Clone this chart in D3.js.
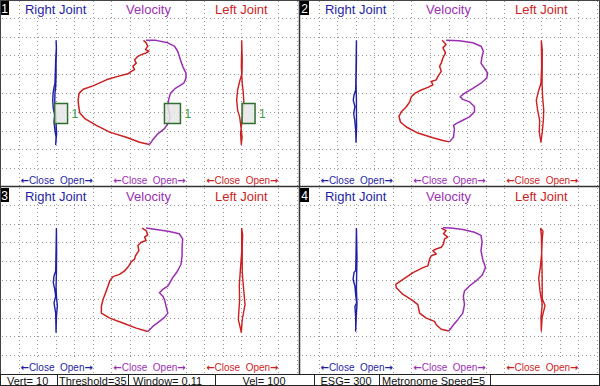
<!doctype html>
<html>
<head>
<meta charset="UTF-8">
<title>Jaw Tracking</title>
<script src="https://d3js.org/d3.v7.min.js"></script>
<style>
  body { margin: 0; background: #fff; }
  svg { display: block; font-family: Arial, "Liberation Sans", sans-serif; }
</style>
</head>
<body>
<script>
// column titles, panel numbers, status bar texts
var titles = ["Right Joint", "Velocity", "Left Joint"];
var dirLabel = ["\u2190", "Close  Open", "\u2192"];
var panelNames = ["1", "2", "3", "4"];
var statusLabels = ["Vert= 10", "Threshold=35", "Window= 0.11", "Vel= 100", "ESG= 300", "Metronome Speed=5", ""];

// traces: [sideways, vertical] in grid divisions
var p1Right = [[0.02,2.20],[0.04,2.51],[0,3.23],[-0.02,3.94],[-0.04,4.48],[-0.09,4.70],[-0.14,5.02],[-0.16,5.38],[-0.13,5.82],[-0.05,6.18],[-0.09,6.54],[-0.04,6.99],[0.02,7.35],[0,7.74],
  [0.05,7.17],[0.02,6.63],[0,6.09],[-0.04,5.73],[-0.05,5.38],[-0.04,5.02],[0,4.66],[0.02,4.12],[0.02,3.41],[0.04,2.69],[0.02,2.20]];
var p1VelClose = [[-0.27,2.20],[-0.13,2.33],[-0.04,2.51],[-0.16,2.69],[0.02,2.78],[-0.13,2.87],[-0.39,2.96],[-0.57,3.05],[-0.75,3.23],[-0.66,3.41],[-0.84,3.58],[-0.75,3.76],[-0.93,3.85],[-1.11,3.98],[-1.56,4.09],[-2.27,4.30],[-2.99,4.62],[-3.52,4.80],[-3.74,5.02],[-3.79,5.38],[-3.76,5.73],[-3.70,6.06],[-3.43,6.36],[-2.81,6.72],[-2.09,7.08],[-1.20,7.35],[-0.48,7.62],[0.05,7.74]];
var p1VelOpen = [[0.05,7.74],[0.23,7.49],[0.50,7.17],[0.86,6.90],[1.04,6.63],[1.16,6.36],[1.13,6.09],[1.04,5.73],[1.08,5.38],[1.18,5.02],[1.45,4.75],[1.9,4.48],[2.02,4.21],[2.02,3.94],[1.84,3.58],[1.75,3.32],[1.66,3.05],[1.57,2.78],[1.40,2.51],[1.04,2.33],[0.41,2.20],[-0.13,2.19]];
var p1Left = [[0.02,2.20],[0.05,3.23],[0.04,3.94],[-0.09,4.39],[-0.20,4.84],[-0.25,5.38],[-0.20,5.91],[-0.09,6.27],[-0.02,6.81],[0.04,7.35],[0,7.74],
  [-0.04,7.17],[0.02,6.63],[0.09,6.09],[0.14,5.56],[0.11,5.02],[0.05,4.48],[0,3.58],[0.02,2.69],[0.02,2.20]];

var p2Right = [[0.04,2.20],[0.02,3.58],[0,4.84],[-0.09,5.11],[-0.13,5.38],[-0.04,5.73],[-0.11,6.09],[-0.05,6.45],[0,6.99],[0.02,7.62],
  [0.05,6.81],[0.04,6.09],[0.04,5.38],[0.02,4.48],[0.04,3.23],[0.04,2.20]];
var p2VelClose = [[-0.34,2.20],[-0.13,2.42],[-0.30,2.60],[-0.16,2.87],[-0.30,3.14],[-0.39,3.41],[-0.48,3.58],[-0.39,3.85],[-0.57,4.12],[-0.66,4.30],[-0.93,4.39],[-0.84,4.57],[-1.11,4.70],[-1.47,4.84],[-1.82,5.02],[-2.00,5.20],[-2.09,5.47],[-2.27,5.73],[-2.54,6.00],[-2.67,6.24],[-2.59,6.54],[-2.27,6.81],[-1.65,7.13],[-0.84,7.38],[-0.30,7.53],[0.05,7.60]];
var p2VelOpen = [[0.05,7.60],[0.27,7.35],[0.32,6.90],[0.27,6.72],[0.41,6.63],[0.77,6.45],[1.13,6.27],[1.40,6.00],[1.40,5.73],[1.13,5.47],[0.77,5.34],[0.63,5.20],[0.86,5.02],[1.31,4.75],[1.75,4.48],[2.06,4.21],[2.11,3.94],[1.93,3.67],[1.75,3.41],[1.81,3.05],[1.88,2.78],[1.75,2.51],[1.31,2.33],[0.59,2.22],[-0.13,2.19]];
var p2Left = [[0,2.20],[0.02,3.58],[-0.02,4.48],[-0.16,4.93],[-0.27,5.38],[-0.20,5.91],[-0.09,6.45],[-0.11,7.08],[-0.02,7.62],
  [0.05,7.08],[0.11,6.45],[0.13,5.91],[0.07,5.20],[0.04,4.48],[0.05,3.58],[0.05,2.69],[0,2.20]];

var p3Right = [[0.04,2.24],[0.02,3.44],[0,4.52],[-0.09,4.79],[-0.13,5.14],[-0.05,5.50],[0,5.86],[-0.09,6.22],[0,6.76],[0.02,7.78],
  [0.04,7.0],[0.09,6.36],[0.05,6.0],[0.02,5.40],[0.04,4.60],[0.05,3.5],[0.04,2.24]];
var p3VelClose = [[-0.34,2.24],[-0.13,2.37],[-0.04,2.60],[-0.21,2.72],[-0.13,2.90],[-0.39,2.99],[-0.57,3.17],[-0.52,3.44],[-0.70,3.71],[-0.75,3.89],[-0.93,4.03],[-1.06,4.25],[-1.29,4.52],[-1.56,4.70],[-1.91,4.82],[-2.09,5.05],[-2.18,5.32],[-2.31,5.68],[-2.45,6.04],[-2.54,6.40],[-2.54,6.76],[-2.09,7.03],[-1.38,7.29],[-0.66,7.56],[-0.04,7.74]];
var p3VelOpen = [[-0.04,7.74],[0.23,7.47],[0.59,7.20],[0.86,6.99],[1.04,6.76],[0.95,6.40],[0.86,6.04],[0.77,5.86],[0.59,5.68],[0.77,5.50],[1.04,5.32],[1.31,4.87],[1.57,4.52],[1.75,4.16],[1.81,3.71],[1.81,3.26],[1.84,2.81],[1.66,2.54],[1.13,2.42],[0.41,2.31],[-0.13,2.24]];
var p3Left = [[0.02,2.24],[0.02,3.5],[-0.05,4.45],[-0.11,5.32],[-0.09,6.04],[-0.16,7.11],[0,7.78],
  [0.05,7.11],[0.2,6.31],[0.11,5.32],[0.05,4.6],[0.05,3.3],[0.07,2.6],[0.02,2.24]];

var p4Right = [[0.04,2.24],[0.02,3.5],[0,4.5],[-0.09,4.6],[-0.14,4.97],[-0.04,5.32],[0,5.8],[0.05,6.22],[-0.04,6.40],[0,7.0],[0,7.71],
  [0.04,6.8],[0.07,6.27],[0.04,5.5],[0.05,4.8],[0.07,3.8],[0.05,2.7],[0.04,2.24]];
var p4VelClose = [[-0.39,2.24],[-0.13,2.37],[-0.27,2.54],[-0.04,2.72],[-0.21,2.81],[-0.27,3.08],[-0.39,3.26],[-0.66,3.35],[-0.84,3.44],[-0.66,3.62],[-0.93,3.71],[-1.02,3.89],[-1.11,4.25],[-1.38,4.34],[-1.91,4.61],[-2.45,4.97],[-2.84,5.23],[-2.81,5.41],[-2.45,5.77],[-2.0,6.04],[-1.65,6.31],[-1.56,6.76],[-1.20,7.03],[-0.75,7.20],[-0.66,7.38],[-0.39,7.62],[0.02,7.71]];
var p4VelOpen = [[0.02,7.71],[0.27,7.38],[0.50,7.11],[0.77,6.76],[0.86,6.31],[0.80,5.86],[0.86,5.59],[1.13,5.32],[1.48,5.05],[1.81,4.75],[1.99,4.34],[1.84,3.89],[1.75,3.44],[1.81,2.99],[1.75,2.63],[1.40,2.46],[0.77,2.31],[0.14,2.24],[-0.30,2.22]];
var p4Left = [[-0.04,2.24],[0.09,2.4],[0.05,2.8],[0.02,3.6],[-0.05,4.3],[-0.14,4.9],[-0.07,5.6],[0,6.0],[0.05,6.3],[-0.02,7.0],[0,7.71],
  [0.04,7.0],[0.2,6.36],[0.05,6.0],[0.05,5.5],[0.04,4.5],[0.02,3.5],[0,2.6],[-0.04,2.24]];

// markers shown in panel 1 (column, sideways, vertical)
var p1Markers = [[0, 0.29, 6.09], [1, 1.29, 6.09], [2, 0.39, 6.09]];
var markerLabel = "1";

var panels = [
  { right: p1Right, close: p1VelClose, open: p1VelOpen, left: p1Left, markers: p1Markers },
  { right: p2Right, close: p2VelClose, open: p2VelOpen, left: p2Left, markers: [] },
  { right: p3Right, close: p3VelClose, open: p3VelOpen, left: p3Left, markers: [] },
  { right: p4Right, close: p4VelClose, open: p4VelOpen, left: p4Left, markers: [] }
];

var w = 600, h = 386;
var pw = 300, ph = 187;
var blue = "#1f1fa6", purple = "#9b2fb3", red = "#cc1f1f", green = "#2f6e2f";
var colCenter = [-5, 0, 5];
var colColor = [blue, purple, red];

var svg = d3.select("body").append("svg").attr("width", w).attr("height", h);
svg.append("rect").attr("width", w).attr("height", h).attr("fill", "#fff");

panels.forEach(function(p, i) {
  var x0 = (i % 2) * pw, y0 = Math.floor(i / 2) * ph;
  var x = d3.scaleLinear().domain([-8, 8]).range([x0, x0 + 297]);
  var y = d3.scaleLinear().domain([0, 10]).range([y0 - 1, y0 + 187]);
  var g = svg.append("g");

  // dotted grid
  g.selectAll(".vg").data(d3.range(-7, 9)).enter().append("line")
    .attr("x1", function(d) { return Math.round(x(d)) + 0.5; })
    .attr("x2", function(d) { return Math.round(x(d)) + 0.5; })
    .attr("y1", y0 + 1).attr("y2", y0 + ph - 1)
    .attr("stroke", "#9a9a9a").attr("stroke-dasharray", "1,3");
  g.selectAll(".hg").data(d3.range(1, 10)).enter().append("line")
    .attr("y1", function(d) { return Math.round(y(d)) + 0.5; })
    .attr("y2", function(d) { return Math.round(y(d)) + 0.5; })
    .attr("x1", x0 + 2).attr("x2", x0 + pw - 2)
    .attr("stroke", "#9a9a9a").attr("stroke-dasharray", "1,3");

  // titles and direction labels on white boxes
  colCenter.forEach(function(c, k) {
    var bx = Math.round(x(c - 2)) + 1.5, bw = Math.round(x(c + 2)) - Math.round(x(c - 2)) - 2;
    g.append("rect").attr("x", bx).attr("y", y0 + 1).attr("width", bw).attr("height", 15).attr("fill", "#fff");
    g.append("rect").attr("x", bx).attr("y", y0 + 170).attr("width", bw).attr("height", 16).attr("fill", "#fff");
    g.append("text").attr("x", x(c)).attr("y", y0 + 14)
      .attr("text-anchor", "middle").attr("font-size", 13).attr("fill", colColor[k])
      .text(titles[k]);
    var t = g.append("text").attr("x", x(c) + 1).attr("y", y0 + 183.5)
      .attr("text-anchor", "middle").attr("font-size", 10).attr("fill", colColor[k])
      .style("white-space", "pre");
    dirLabel.forEach(function(s, j) {
      var ts = t.append("tspan").text(s);
      if (j !== 1) ts.attr("font-family", "DejaVu Sans").attr("font-weight", "bold").attr("font-size", 10);
    });
  });

  // joint traces
  function jointLine(c) {
    return d3.line().x(function(d) { return x(c + d[0]); }).y(function(d) { return y(d[1]); });
  }
  g.append("path").attr("d", jointLine(-5)(p.right)).attr("fill", "none")
    .attr("stroke", blue).attr("stroke-width", 1.4).attr("stroke-linejoin", "round");
  g.append("path").attr("d", jointLine(5)(p.left)).attr("fill", "none")
    .attr("stroke", red).attr("stroke-width", 1.4).attr("stroke-linejoin", "round");

  // velocity loop
  var vl = jointLine(0);
  g.append("path").attr("d", vl(p.close)).attr("fill", "none")
    .attr("stroke", red).attr("stroke-width", 1.5).attr("stroke-linejoin", "round");
  g.append("path").attr("d", vl(p.open)).attr("fill", "none")
    .attr("stroke", purple).attr("stroke-width", 1.5).attr("stroke-linejoin", "round");

  // markers
  p.markers.forEach(function(m) {
    var mw = m[0] === 1 ? 16 : 13, mh = 20;
    var cx = x(colCenter[m[0]] + m[1]), cy = y(m[2]);
    g.append("rect").attr("x", cx - mw / 2).attr("y", cy - mh / 2).attr("width", mw).attr("height", mh)
      .attr("fill", "#e6e6e6").attr("fill-opacity", 0.85).attr("stroke", green).attr("stroke-width", 1.5);
    g.append("text").attr("x", cx + mw / 2 + 4).attr("y", cy + 4.5)
      .attr("font-size", 12).attr("fill", "#3aa03a").text(markerLabel);
  });

  // panel number
  g.append("rect").attr("x", x0).attr("y", y0 + 1).attr("width", 9).attr("height", 14).attr("fill", "#000");
  g.append("text").attr("x", x0 + 4.5).attr("y", y0 + 12.5).attr("text-anchor", "middle")
    .attr("font-size", 12).attr("fill", "#fff").text(panelNames[i]);
});

// panel borders
svg.append("rect").attr("x", 0.5).attr("y", 0.5).attr("width", w - 1).attr("height", h - 1)
  .attr("fill", "none").attr("stroke", "#444");
svg.append("line").attr("x1", 299.5).attr("x2", 299.5).attr("y1", 0).attr("y2", 374)
  .attr("stroke", "#333").attr("stroke-width", 1.5);
svg.append("line").attr("x1", 0).attr("x2", w).attr("y1", 186.5).attr("y2", 186.5)
  .attr("stroke", "#333").attr("stroke-width", 1.5);

// status bar
var cellEdges = [0, 57, 128, 215, 314, 379, 490, 600];
var sb = svg.append("g");
sb.append("rect").attr("x", 0.5).attr("y", 374.5).attr("width", w - 1).attr("height", 11)
  .attr("fill", "#fff").attr("stroke", "#222");
sb.selectAll(".sep").data(cellEdges.slice(1, -1)).enter().append("line")
  .attr("x1", function(d) { return d + 0.5; }).attr("x2", function(d) { return d + 0.5; })
  .attr("y1", 374).attr("y2", 386).attr("stroke", "#222");
var textPos = [[7, "start"], [59, "start"], [133, "start"], [264, "middle"], [346, "middle"], [382, "start"], [545, "middle"]];
sb.selectAll(".st").data(statusLabels).enter().append("text")
  .attr("x", function(d, i) { return textPos[i][0]; })
  .attr("y", 384.5)
  .attr("text-anchor", function(d, i) { return textPos[i][1]; })
  .attr("font-size", 11).attr("fill", "#111")
  .text(function(d) { return d; });
</script>
</body>
</html>
